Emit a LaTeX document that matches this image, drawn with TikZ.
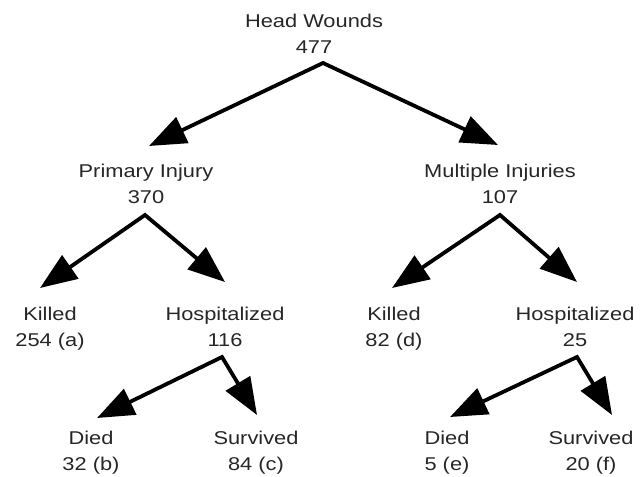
\documentclass[tikz,border=0pt]{standalone}
\usepackage{fontspec}
\setmainfont{Liberation Sans}[FakeStretch=1.18]
\usetikzlibrary{arrows.meta}
\begin{document}
\begin{tikzpicture}[x=1pt,y=-1pt,
  lbl/.style={align=center, inner sep=0pt, anchor=base, font=\fontsize{18.5}{26}\selectfont, text=black!85},
  conn/.style={line width=3.8pt, line join=miter, {Triangle[length=37pt,width=28pt]}-{Triangle[length=37pt,width=28pt]}}]
\useasboundingbox (0,0) rectangle (644,476);
% labels (anchor = baseline of the second line)
\node[lbl] (hw) at (314,54) {Head Wounds\\477};
\node[lbl] (pi) at (146,203) {Primary Injury\\370};
\node[lbl] (mi) at (500,203) {Multiple Injuries\\107};
\node[lbl] (k1) at (50,346) {Killed\\254 (a)};
\node[lbl] (h1) at (225,346) {Hospitalized\\116};
\node[lbl] (k2) at (394,346) {Killed\\82 (d)};
\node[lbl] (h2) at (575,346) {Hospitalized\\25};
\node[lbl] (d1) at (91,470) {Died\\32 (b)};
\node[lbl] (s1) at (256,470) {Survived\\84 (c)};
\node[lbl] (d2) at (447,470) {Died\\5 (e)};
\node[lbl] (s2) at (591,470) {Survived\\20 (f)};
% branch points and arrow tips
\coordinate (hwA) at (323,63);
\coordinate (piT) at (149,146);
\coordinate (miT) at (498,145);
\coordinate (piA) at (145,215);
\coordinate (k1T) at (40,288);
\coordinate (h1T) at (225,282);
\coordinate (miA) at (500,215);
\coordinate (k2T) at (392,288);
\coordinate (h2T) at (577,282);
\coordinate (h1A) at (222,357);
\coordinate (d1T) at (97,418);
\coordinate (s1T) at (257,415);
\coordinate (h2A) at (577,357);
\coordinate (d2T) at (450,417);
\coordinate (s2T) at (612,415);
% connectors
\draw[conn] (piT) -- (hwA) -- (miT);
\draw[conn] (k1T) -- (piA) -- (h1T);
\draw[conn] (k2T) -- (miA) -- (h2T);
\draw[conn] (d1T) -- (h1A) -- (s1T);
\draw[conn] (d2T) -- (h2A) -- (s2T);
\end{tikzpicture}
\end{document}
